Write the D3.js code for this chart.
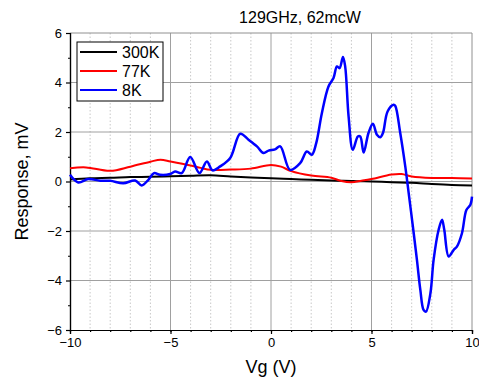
<!DOCTYPE html>
<html>
<head>
<meta charset="utf-8">
<script src="https://cdn.jsdelivr.net/npm/d3@7"></script>
<style>
  body { margin: 0; background: #fff; }
  text { font-family: "Liberation Sans", Arial, sans-serif; fill: #000; }
</style>
</head>
<body>
<div id="chart"></div>
<script>
// 300K curve
var vg300 = [-10, -9, -8, -7, -6, -5, -4, -3, -2, -1, 0, 1, 2, 3, 4, 5, 6, 7, 8, 9, 10];
var resp300 = [0.08, 0.13, 0.15, 0.18, 0.19, 0.21, 0.23, 0.25, 0.2, 0.16, 0.13, 0.1, 0.07, 0.04, 0.02, 0.0, -0.03, -0.05, -0.1, -0.14, -0.16];

// 77K curve
var vg77 = [-10, -9.2, -8, -7, -6, -5.5, -5, -4, -3.5, -3, -2, -1, 0, 0.5, 1, 2, 3, 3.5, 4, 4.5, 5, 6, 6.5, 7, 8, 9, 10];
var resp77 = [0.54, 0.57, 0.43, 0.6, 0.8, 0.88, 0.81, 0.65, 0.55, 0.47, 0.48, 0.52, 0.67, 0.6, 0.42, 0.24, 0.15, 0.02, -0.03, 0.03, 0.1, 0.28, 0.3, 0.2, 0.14, 0.14, 0.12];

// 8K curve
var vg8 = [-10, -9.59, -9.09, -8.5, -8.0, -7.35, -6.76, -6.43, -6.1, -5.82, -5.52, -5.02, -4.77, -4.44, -4.02, -3.56, -3.19, -2.91, -2.53, -2.03, -1.53, -1.12, -0.7, -0.37, -0.12, 0.2, 0.46, 0.95, 1.45, 1.78, 2.03, 2.25, 2.53, 2.86, 3.11, 3.28, 3.41, 3.58, 3.69, 3.86, 4.07, 4.32, 4.44, 4.61, 4.85, 5.07, 5.27, 5.44, 5.57, 5.8, 6.1, 6.18, 6.43, 6.68, 6.85, 7.1, 7.26, 7.43, 7.59, 7.71, 7.93, 8.09, 8.34, 8.51, 8.62, 8.84, 9.09, 9.25, 9.5, 9.72, 9.92, 10];
var resp8 = [0.27, -0.04, 0.1, 0.03, 0.03, -0.07, 0.04, -0.16, 0.07, 0.34, 0.27, 0.3, 0.4, 0.34, 0.99, 0.34, 0.81, 0.45, 0.61, 0.95, 1.93, 1.69, 1.42, 1.15, 1.25, 1.3, 1.42, 0.47, 0.74, 1.21, 1.08, 1.55, 2.76, 3.84, 4.18, 4.65, 4.58, 5.03, 4.65, 2.63, 1.28, 1.82, 1.82, 1.17, 1.96, 2.33, 1.89, 1.79, 1.96, 2.83, 3.1, 3.06, 1.96, 0.61, -0.47, -2.09, -3.17, -4.38, -5.19, -5.26, -4.52, -3.17, -1.95, -1.55, -1.95, -3.03, -2.76, -2.63, -2.09, -1.15, -0.94, -0.61];

var xMajor = [-10, -5, 0, 5, 10];
var yMajor = [-6, -4, -2, 0, 2, 4, 6];
var seriesNames = ["300K", "77K", "8K"];
var seriesColors = ["#000000", "#ff0000", "#0000ff"];

var W = 479, H = 378;
var margin = {top: 33, right: 7, bottom: 48, left: 70};
var width = W - margin.left - margin.right,
    height = H - margin.top - margin.bottom;

var svg = d3.select("#chart").append("svg").attr("width", W).attr("height", H);
var g = svg.append("g").attr("transform", "translate(" + margin.left + "," + margin.top + ")");

var x = d3.scaleLinear().domain([-10, 10]).range([0, width]);
var y = d3.scaleLinear().domain([-6, 6]).range([height, 0]);

// minor vertical grid (dotted)
g.append("g").selectAll("line").data(d3.range(-9, 10).filter(function(v) { return v % 5 !== 0; }))
  .enter().append("line")
  .attr("x1", function(d) { return x(d); }).attr("x2", function(d) { return x(d); })
  .attr("y1", 0).attr("y2", height)
  .style("stroke", "#c8c8c8").style("stroke-dasharray", "1.5,2").style("stroke-width", 1);

// major grid
g.append("g").selectAll("line").data([-5, 0, 5]).enter().append("line")
  .attr("x1", function(d) { return x(d); }).attr("x2", function(d) { return x(d); })
  .attr("y1", 0).attr("y2", height)
  .style("stroke", "#a0a0a0").style("stroke-width", 1);
g.append("g").selectAll("line").data([-4, -2, 0, 2, 4]).enter().append("line")
  .attr("x1", 0).attr("x2", width)
  .attr("y1", function(d) { return y(d); }).attr("y2", function(d) { return y(d); })
  .style("stroke", "#a0a0a0").style("stroke-width", 1);

// frame top / right
g.append("line").attr("x1", 0).attr("x2", width).attr("y1", 0).attr("y2", 0).style("stroke", "#909090");
g.append("line").attr("x1", width).attr("x2", width).attr("y1", 0).attr("y2", height).style("stroke", "#909090");

// axes
var xAxis = d3.axisBottom(x).tickValues(xMajor).tickSize(4).tickPadding(4).tickFormat(d3.format("d"));
var xMinor = d3.axisBottom(x).tickValues(d3.range(-9, 10)).tickSize(2).tickFormat("");
var yAxis = d3.axisLeft(y).tickValues(yMajor).tickSize(4).tickPadding(4).tickFormat(d3.format("d"));
var yMinor = d3.axisLeft(y).tickValues([-5, -3, -1, 1, 3, 5]).tickSize(2).tickFormat("");

function styleAxis(sel) {
  sel.select(".domain").style("stroke", "#000").style("stroke-width", 1.2);
  sel.selectAll(".tick line").style("stroke", "#000").style("stroke-width", 1.2);
  sel.selectAll("text").style("font-size", "13px").style("font-family", "'Liberation Sans', Arial, sans-serif");
}
g.append("g").attr("transform", "translate(0," + height + ")").call(xMinor).call(styleAxis);
g.append("g").attr("transform", "translate(0," + height + ")").call(xAxis).call(styleAxis);
g.append("g").call(yMinor).call(styleAxis);
g.append("g").call(yAxis).call(styleAxis);

// lines
var line = d3.line()
  .x(function(d) { return x(d[0]); })
  .y(function(d) { return y(d[1]); })
  .curve(d3.curveCatmullRom.alpha(0.5));

var allData = [
  d3.zip(vg300, resp300),
  d3.zip(vg77, resp77),
  d3.zip(vg8, resp8)
];
var widths = [2, 2, 2.5];
for (var j = 0; j < allData.length; j++) {
  g.append("path").datum(allData[j])
    .attr("d", line)
    .style("fill", "none")
    .style("stroke", seriesColors[j])
    .style("stroke-width", widths[j])
    .style("stroke-linejoin", "round");
}

// legend
var legend = svg.append("g").attr("transform", "translate(77,42)");
legend.append("rect").attr("width", 86).attr("height", 59)
  .style("fill", "#fff").style("stroke", "#000").style("stroke-width", 1);
legend.selectAll(".lg").data(seriesNames).enter().append("line")
  .attr("x1", 3).attr("x2", 40)
  .attr("y1", function(d, i) { return 10 + i * 19; }).attr("y2", function(d, i) { return 10 + i * 19; })
  .style("stroke", function(d, i) { return seriesColors[i]; }).style("stroke-width", 2);
legend.selectAll("text").data(seriesNames).enter().append("text")
  .attr("x", 45).attr("y", function(d, i) { return 10 + i * 19; }).attr("dy", "0.36em")
  .style("font-size", "16px")
  .text(function(d) { return d; });

// titles
svg.append("text").attr("x", 300).attr("y", 23).attr("text-anchor", "middle")
  .style("font-size", "16px").text("129GHz, 62mcW");
svg.append("text").attr("x", margin.left + width / 2).attr("y", 373).attr("text-anchor", "middle")
  .style("font-size", "18px").text("Vg (V)");
svg.append("text").attr("transform", "translate(28," + (margin.top + height / 2) + ") rotate(-90)")
  .attr("text-anchor", "middle")
  .style("font-size", "18px").text("Response, mV");
</script>
</body>
</html>
